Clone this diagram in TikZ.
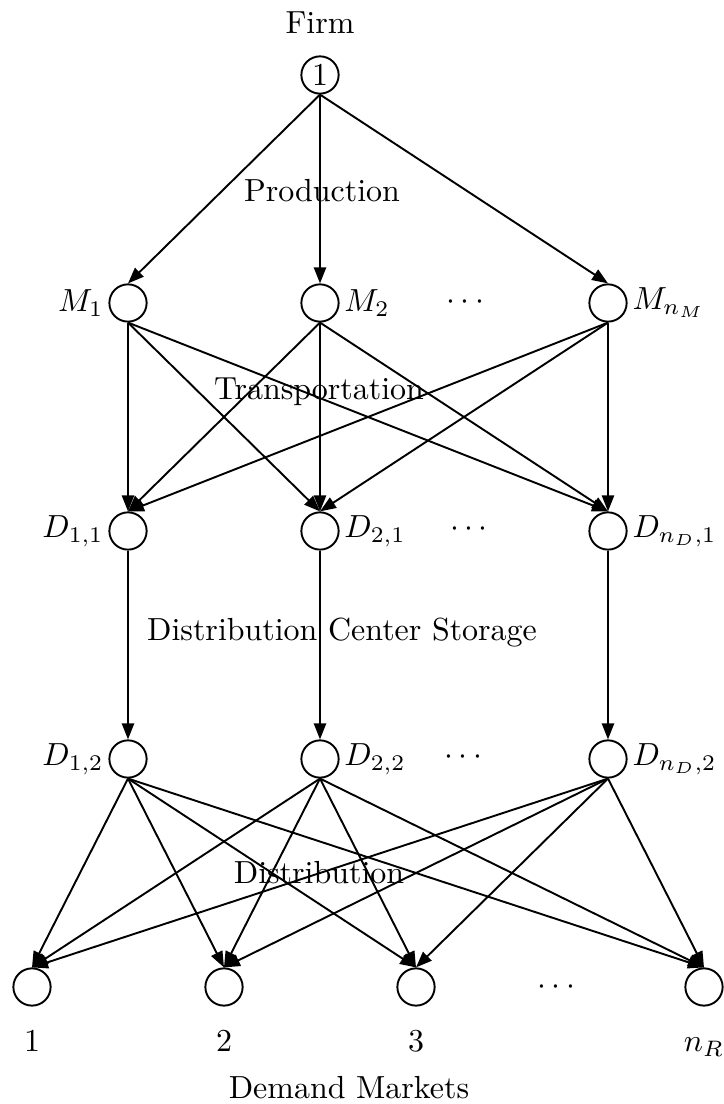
\documentclass[tikz,border=0pt]{standalone}
\usepackage{amsmath}
\usepackage{tikz}
\usetikzlibrary{arrows.meta, positioning}

\begin{document}
\begin{tikzpicture}[
  label distance=-2pt,
  nd/.style={circle, draw, semithick, minimum size=0.41cm, inner sep=0pt},
  arr/.style={semithick, -{Triangle[length=5pt,width=3.8pt]}},
  lab/.style={text height=1.5ex, text depth=.25ex}
]
\useasboundingbox (0,0) rectangle (7.953,12.144);

% firm
\node at (3.52,11.89) {Firm};
\node[nd] (f) at (3.52,11.319) {1};

% manufacturing plants
\node[nd, label=left:$M_1$] (m1) at (1.408,8.811) {};
\node[nd, label=right:$M_2$] (m2) at (3.52,8.811) {};
\node (mdots) at (5.148,8.822) {$\cdots$};
\node[nd, label=right:$M_{n_M}$] (mn) at (6.688,8.811) {};

% distribution centers
\node[nd, label=left:$D_{1,1}$] (d11) at (1.408,6.303) {};
\node[nd, label=right:$D_{2,1}$] (d21) at (3.52,6.303) {};
\node (d1dots) at (5.19,6.325) {$\cdots$};
\node[nd, label=right:$D_{n_D,1}$] (dn1) at (6.688,6.303) {};

\node[nd, label=left:$D_{1,2}$] (d12) at (1.408,3.795) {};
\node[nd, label=right:$D_{2,2}$] (d22) at (3.52,3.795) {};
\node (d2dots) at (5.126,3.817) {$\cdots$};
\node[nd, label=right:$D_{n_D,2}$] (dn2) at (6.688,3.795) {};

% demand markets
\node[nd] (r1) at (0.352,1.287) {};
\node[nd] (r2) at (2.464,1.287) {};
\node[nd] (r3) at (4.576,1.287) {};
\node (rdots) at (6.149,1.287) {$\cdots$};
\node[nd] (rn) at (7.744,1.287) {};

\node[lab, below=0.14cm of r1] (lr1) {$1$};
\node[lab, below=0.14cm of r2] (lr2) {$2$};
\node[lab, below=0.14cm of r3] (lr3) {$3$};
\node[lab, below=0.14cm of rn] (lrn) {$n_R$};
\node at (3.839,0.176) {Demand Markets};

% production
\draw[arr] (f.south) -- (m1.north);
\draw[arr] (f.south) -- (m2.north);
\draw[arr] (f.south) -- (mn.north);

% transportation
\draw[arr] (m1.south) -- (d11.north);
\draw[arr] (m1.south) -- (d21.north);
\draw[arr] (m1.south) -- (dn1.north);
\draw[arr] (m2.south) -- (d11.north);
\draw[arr] (m2.south) -- (d21.north);
\draw[arr] (m2.south) -- (dn1.north);
\draw[arr] (mn.south) -- (d11.north);
\draw[arr] (mn.south) -- (d21.north);
\draw[arr] (mn.south) -- (dn1.north);

% storage
\draw[arr] (d11.south) -- (d12.north);
\draw[arr] (d21.south) -- (d22.north);
\draw[arr] (dn1.south) -- (dn2.north);

% distribution
\draw[arr] (d12.south) -- (r1.north);
\draw[arr] (d12.south) -- (r2.north);
\draw[arr] (d12.south) -- (r3.north);
\draw[arr] (d12.south) -- (rn.north);
\draw[arr] (d22.south) -- (r1.north);
\draw[arr] (d22.south) -- (r2.north);
\draw[arr] (d22.south) -- (r3.north);
\draw[arr] (d22.south) -- (rn.north);
\draw[arr] (dn2.south) -- (r1.north);
\draw[arr] (dn2.south) -- (r2.north);
\draw[arr] (dn2.south) -- (r3.north);
\draw[arr] (dn2.south) -- (rn.north);

% stage labels
\node at (3.542,10.043) {Production};
\node at (3.509,7.832) {Transportation};
\node at (3.762,5.181) {Distribution Center Storage};
\node at (3.509,2.541) {Distribution};
\end{tikzpicture}
\end{document}
